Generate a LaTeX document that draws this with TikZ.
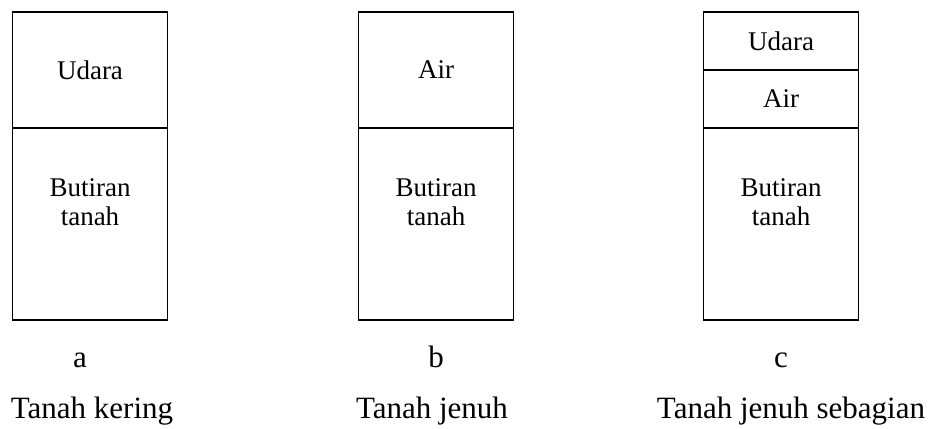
\documentclass[tikz,border=0pt]{standalone}
\usepackage{fontspec}
\setmainfont{Liberation Serif}
\usetikzlibrary{positioning}

\begin{document}
\begin{tikzpicture}[
  x=1pt, y=-1pt,
  layer/.style={
    rectangle, draw, line width=1.8pt,
    minimum width=155pt, inner sep=0pt, outer sep=0pt,
    font=\rmfamily\fontsize{27}{29}\selectfont, align=center
  },
  grain/.style={
    inner sep=0pt, align=center,
    font=\rmfamily\fontsize{27}{29}\selectfont
  },
  tag/.style={anchor=base, inner sep=0pt, font=\rmfamily\fontsize{31}{34}\selectfont},
  caption/.style={anchor=base, inner sep=0pt, font=\rmfamily\fontsize{31}{34}\selectfont}
]
\useasboundingbox (0,0) rectangle (933,428);

% Column a
\node[layer, minimum height=116pt] (a1) at (90,70) {Udara};
\node[layer, minimum height=192pt, below=0pt of a1] (a2) {};
\node[grain, below=50pt of a2.north] (a2t) {Butiran\\tanah};

% Column b
\node[layer, minimum height=116pt] (b1) at (436,70) {Air};
\node[layer, minimum height=192pt, below=0pt of b1] (b2) {};
\node[grain, below=50pt of b2.north] (b2t) {Butiran\\tanah};

% Column c
\node[layer, minimum height=58pt] (c1) at (781,41) {Udara};
\node[layer, minimum height=58pt, below=0pt of c1] (c2) {Air};
\node[layer, minimum height=192pt, below=0pt of c2] (c3) {};
\node[grain, below=50pt of c3.north] (c3t) {Butiran\\tanah};

% Labels
\node[tag] (la) at (80,367) {a};
\node[tag] (lb) at (436,367) {b};
\node[tag] (lc) at (781,367) {c};

\node[caption] (ca) at (92,418) {Tanah kering};
\node[caption] (cb) at (432,418) {Tanah jenuh};
\node[caption] (cc) at (791,418) {Tanah jenuh sebagian};
\end{tikzpicture}
\end{document}
